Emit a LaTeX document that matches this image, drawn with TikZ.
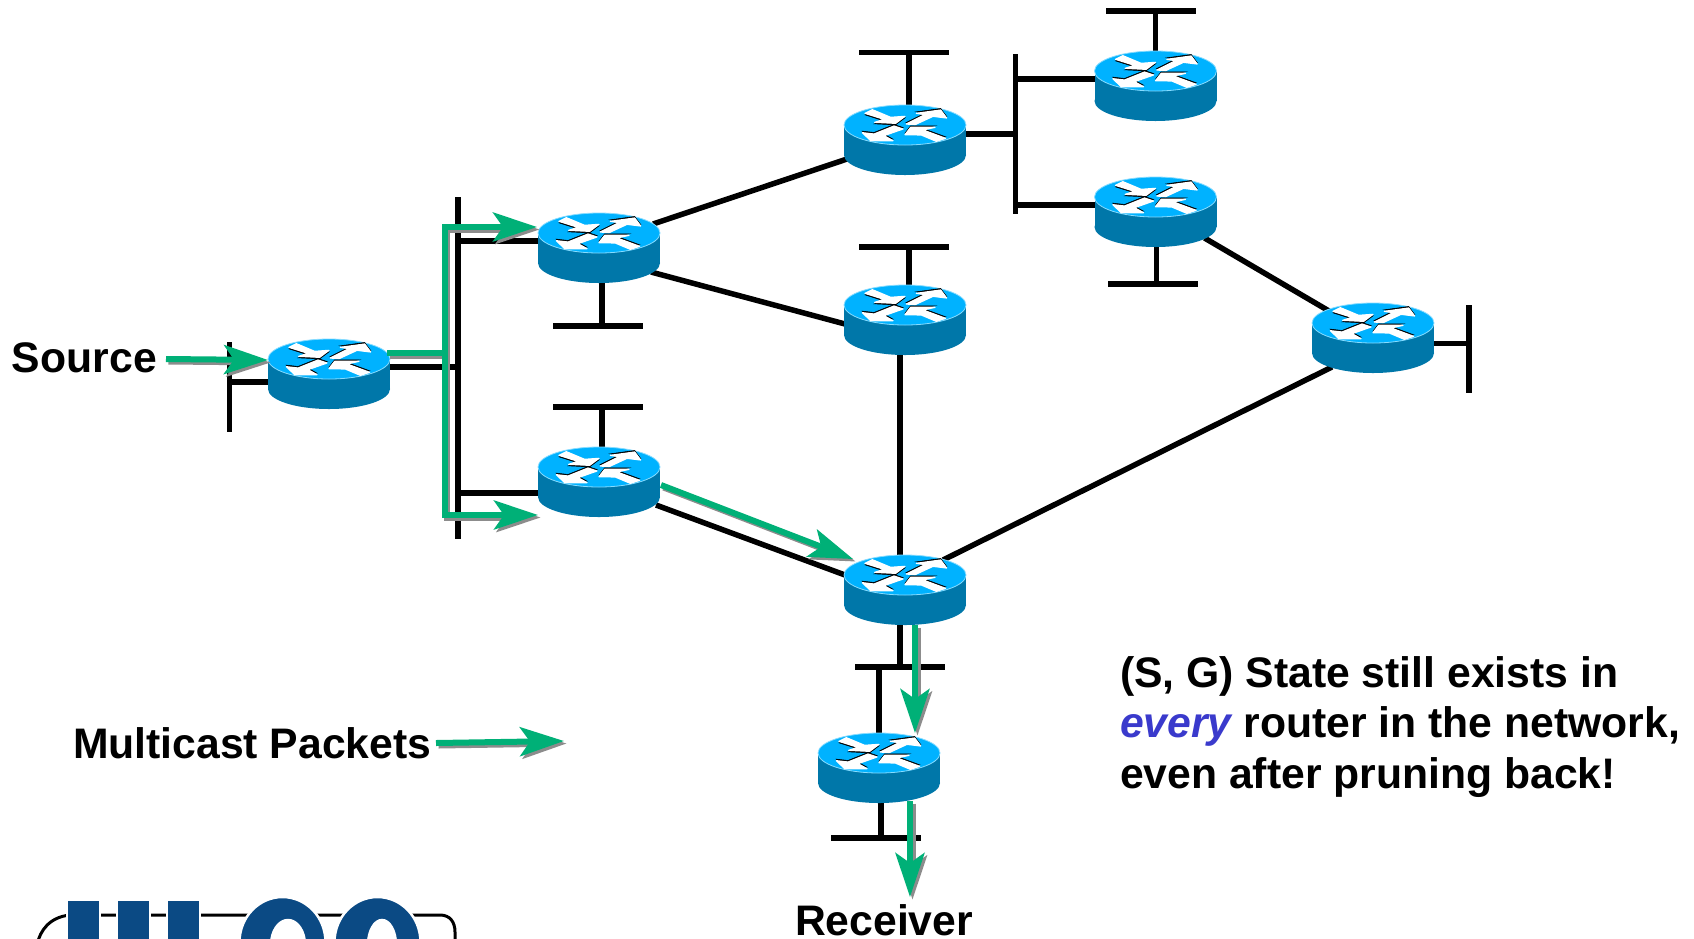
\documentclass[tikz,border=0pt]{standalone}
\usepackage{fontspec}
\setmainfont{Liberation Sans}
\usetikzlibrary{arrows.meta,calc}
\definecolor{rtop}{HTML}{00B2FF}
\definecolor{rside}{HTML}{0077A9}
\definecolor{redge}{HTML}{86DCFF}
\definecolor{pktgreen}{HTML}{00B077}
\definecolor{pktgray}{HTML}{8C8C8C}
\definecolor{logoblue}{HTML}{0B4A84}
\definecolor{everyblue}{HTML}{3A3ACC}
\tikzset{
  router/.style={inner sep=0pt,outer sep=0pt,minimum width=122pt,minimum height=70pt},
  rarrow/.style={fill=white,draw=white,line width=1.2pt,line join=round},
  rshade/.style={fill=black,draw=black,line width=.6pt},
  routerart/.pic={
    \fill[rside] (-61,-15) rectangle (61,15);
    \fill[rside] (0,15) ellipse [x radius=61pt,y radius=20pt];
    \fill[rtop,draw=redge,line width=.8pt] (0,-15) ellipse [x radius=61pt,y radius=20pt];
    \begin{scope}[shift={(-76,-56)},x=.3333pt,y=-.3333pt]
      \path[rshade,shift={(0,4.5)}] (108,88)--(130,77)--(185,100)--(228,97)--(200,118)--(137,115)--(165,106)--cycle;
      \path[rarrow] (108,88)--(130,77)--(185,100)--(228,97)--(200,118)--(137,115)--(165,106)--cycle;
      \path[rshade,shift={(0,-4.5)}] (232,120)--(288,92)--(262,88)--(335,78)--(353,102)--(312,97)--(258,122)--cycle;
      \path[rarrow] (232,120)--(288,92)--(262,88)--(335,78)--(353,102)--(312,97)--(258,122)--cycle;
      \path[rshade,shift={(0,-4.5)}] (100,146)--(135,150)--(195,126)--(222,135)--(165,155)--(192,170)--(125,170)--cycle;
      \path[rarrow] (100,146)--(135,150)--(195,126)--(222,135)--(165,155)--(192,170)--(125,170)--cycle;
      \path[rshade,shift={(0,-4.5)}] (228,152)--(245,130)--(318,130)--(282,138)--(350,163)--(322,172)--(265,148)--(280,153)--cycle;
      \path[rarrow] (228,152)--(245,130)--(318,130)--(282,138)--(350,163)--(322,172)--(265,148)--(280,153)--cycle;
    \end{scope}
  },
  wire/.style={draw=black,line width=5.5pt},
  hbar/.style={fill=black,inner sep=0pt,outer sep=0pt,minimum height=5.6pt},
  vbar/.style={fill=black,inner sep=0pt,outer sep=0pt,minimum width=5.6pt},
  pktbase/.style={line width=6pt},
  pkt/.style={pktbase,-{Stealth[length=44pt,width=29pt,inset=10pt]}},
  pktboth/.style={pktbase,{Stealth[length=44pt,width=29pt,inset=10pt]}-{Stealth[length=44pt,width=29pt,inset=10pt]}},
  txt/.style={inner sep=0pt,outer sep=0pt,anchor=base west,font=\fontsize{42.7}{50}\selectfont\bfseries},
}
\newcommand{\pktshadow}[2]{\draw[#1,pktgray,transform canvas={xshift=2.5pt,yshift=-2.5pt}] #2;}
\newcommand{\pktmain}[2]{\draw[#1,pktgreen] #2;}
\newcommand{\packet}[2]{\pktshadow{#1}{#2}\pktmain{#1}{#2}}
\begin{document}
\begin{tikzpicture}[x=1pt,y=-1pt]
\useasboundingbox (0,0) rectangle (1694,938);
\fill[white] (0,0) rectangle (1694,938);
% logo, cut by the lower edge of the picture
\begin{scope}
  \clip (0,0) rectangle (1694,938);
  \draw[black,line width=3pt,line cap=round] (37,945) .. controls (40,930) and (50,917) .. (70,915) -- (440,915) .. controls (450,915) and (455,922) .. (455,932) -- (455,945);
  \fill[logoblue,draw=white,line width=2.5pt] (67,900) rectangle (100,950);
  \fill[logoblue,draw=white,line width=2.5pt] (117,900) rectangle (150,950);
  \fill[logoblue,draw=white,line width=2.5pt] (167,900) rectangle (200,950);
  \fill[logoblue,draw=white,line width=2.5pt,even odd rule] (282.5,942) ellipse [x radius=43pt,y radius=45pt] (288,945) ellipse [x radius=17pt,y radius=25pt];
  \fill[logoblue,draw=white,line width=2.5pt,even odd rule] (377.5,942) ellipse [x radius=43pt,y radius=45pt] (382,945) ellipse [x radius=14pt,y radius=25pt];
\end{scope}
% router places
\node[router] (r0) at (329,374) {};
\node[router] (r1) at (599,248) {};
\node[router] (r2) at (599,482) {};
\node[router] (r3) at (905,140) {};
\node[router] (r4) at (905,320) {};
\node[router] (r5) at (905,590) {};
\node[router] (r6) at (879,768) {};
\node[router] (r7) at (1155.5,86) {};
\node[router] (r8) at (1155.5,212) {};
\node[router] (r9) at (1373,338) {};
% buses and end bars
\node[vbar,minimum height=90pt] (busA) at (229.5,387) {};
\node[vbar,minimum height=342pt] (busB) at (458,368) {};
\node[vbar,minimum height=160pt] (busC) at (1015.5,134) {};
\node[vbar,minimum height=88pt] (busR) at (1469,349) {};
\node[hbar,minimum width=90pt] (t1) at (597.5,326) {};
\node[hbar,minimum width=90pt] (t2) at (597.5,407) {};
\node[hbar,minimum width=90pt] (t3) at (904,52.5) {};
\node[hbar,minimum width=90pt] (t4) at (904,247) {};
\node[hbar,minimum width=90pt] (t5) at (900,667) {};
\node[hbar,minimum width=90pt] (t6) at (876,838) {};
\node[hbar,minimum width=90pt] (t7) at (1151,11) {};
\node[hbar,minimum width=90pt] (t8) at (1153,284) {};
% stubs to buses
\draw[wire] ([shift={(0,8)}]r0.center) -- ([shift={(0,8)}]r0.center -| busA.center);
\draw[wire] ([shift={(0,-7)}]r0.center) -- ([shift={(0,-7)}]r0.center -| busB.center);
\draw[wire] ([shift={(0,-7)}]r1.center) -- ([shift={(0,-7)}]r1.center -| busB.center);
\draw[wire] ([shift={(0,11)}]r2.center) -- ([shift={(0,11)}]r2.center -| busB.center);
\draw[wire] ([shift={(0,-6)}]r3.center) -- ([shift={(0,-6)}]r3.center -| busC.center);
\draw[wire] ([shift={(0,-7)}]r7.center) -- ([shift={(0,-7)}]r7.center -| busC.center);
\draw[wire] ([shift={(0,-7)}]r8.center) -- ([shift={(0,-7)}]r8.center -| busC.center);
\draw[wire] ([shift={(0,5.5)}]r9.center) -- ([shift={(0,5.5)}]r9.center -| busR.center);
% stubs to end bars
\draw[wire] ([shift={(3,0)}]r1.center) -- ([shift={(3,0)}]r1.center |- t1.center);
\draw[wire] ([shift={(3,0)}]r2.center) -- ([shift={(3,0)}]r2.center |- t2.center);
\draw[wire] ([shift={(4,0)}]r3.center) -- ([shift={(4,0)}]r3.center |- t3.center);
\draw[wire] ([shift={(4,0)}]r4.center) -- ([shift={(4,0)}]r4.center |- t4.center);
\draw[wire] (r7.center) -- (r7.center |- t7.center);
\draw[wire] ([shift={(1,0)}]r8.center) -- ([shift={(1,0)}]r8.center |- t8.center);
\draw[wire] ([shift={(-5,0)}]r5.center) -- ([shift={(-5,0)}]r5.center |- t5.center);
\draw[wire] (r6.center) -- (r6.center |- t5.center);
\draw[wire] ([shift={(2,0)}]r6.center) -- ([shift={(2,0)}]r6.center |- t6.center);
% router to router
\draw[wire] ([shift={(54,-24)}]r1.center) -- ([shift={(-58,19)}]r3.center);
\draw[wire] ([shift={(52,24)}]r1.center) -- ([shift={(-60,4)}]r4.center);
\draw[wire] ([shift={(49,26)}]r8.center) -- ([shift={(-44,-27)}]r9.center);
\draw[wire] ([shift={(38,-30)}]r5.center) -- ([shift={(-41,29)}]r9.center);
\draw[wire] ([shift={(57,23)}]r2.center) -- ([shift={(-60,-15)}]r5.center);
\draw[wire] ([shift={(-5,0)}]r4.center) -- ([shift={(-5,0)}]r5.center);
% router art
\foreach \r in {r0,r1,r2,r3,r4,r5,r6,r7,r8,r9} {\pic at (\r.center) {routerart};}
% packets
\coordinate (srcfree) at (166,359);
\coordinate (legfrom) at (436,743);
\coordinate (legto) at (564,741);
\coordinate (rxtip) at (910,897);
\coordinate (jn) at (444.5,353);
\coordinate (jt) at (444.5,227);
\coordinate (jb) at (444.5,515);
\pktshadow{pktbase}{([shift={(58,-21)}]r0.center) -- (jn)}
\pktshadow{pktboth}{([shift={(-62,-21)}]r1.center) -- (jt) -- (jb) -- ([shift={(-61,33)}]r2.center)}
\pktmain{pktbase}{([shift={(58,-21)}]r0.center) -- (jn)}
\pktmain{pktboth}{([shift={(-62,-21)}]r1.center) -- (jt) -- (jb) -- ([shift={(-61,33)}]r2.center)}
\packet{pkt}{(srcfree) -- ([shift={(-61,-14)}]r0.center)}
\packet{pkt}{([shift={(62,3)}]r2.center) -- ([shift={(-52,-31)}]r5.center)}
\packet{pkt}{([shift={(10,35)}]r5.center) -- ([shift={(36,-35)}]r6.center)}
\packet{pkt}{([shift={(31,33)}]r6.center) -- (rxtip)}
\packet{pkt}{(legfrom) -- (legto)}
% text
\node[txt] (source) at (12,372) {Source};
\node[txt] (legend) at (73,758) {Multicast Packets};
\node[txt] (receiver) at (795,935) {Receiver};
\node[txt] (line1) at (1120,687) {(S, G) State still exists in};
\node[txt] (line2) at (1120,737) {\textit{\textcolor{everyblue}{every}} router in the network,};
\node[txt] (line3) at (1120,788) {even after pruning back!};
\end{tikzpicture}
\end{document}
